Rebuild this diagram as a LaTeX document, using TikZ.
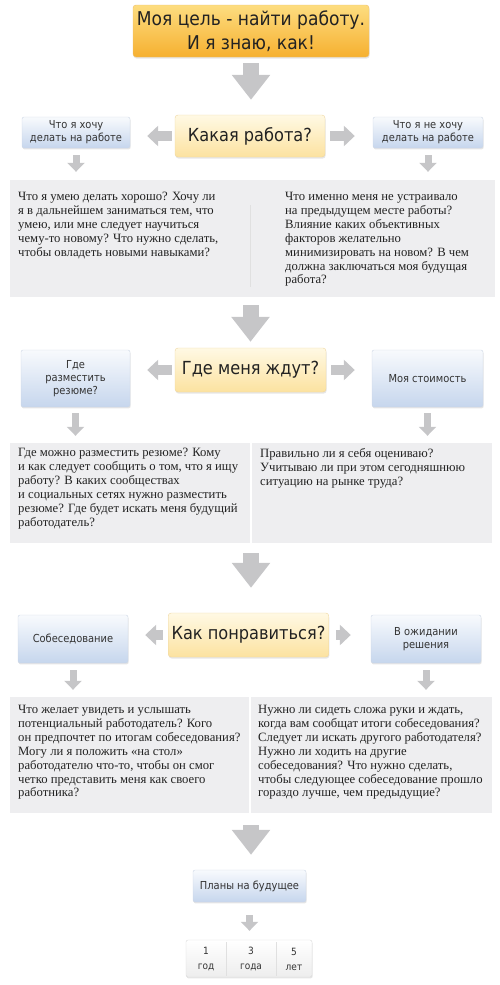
\documentclass[tikz,border=0pt]{standalone}
\usepackage{fontspec}
\setmainfont{Liberation Serif}
\newfontfamily\boxfont{DejaVu Sans Condensed}
\usetikzlibrary{arrows.meta,shadows}
\definecolor{jbgoldtop}{RGB}{253,221,128}
\definecolor{jbgoldbot}{RGB}{246,176,48}
\definecolor{jbgoldline}{RGB}{236,190,110}
\definecolor{jbcreamtop}{RGB}{255,249,228}
\definecolor{jbcreambot}{RGB}{252,226,160}
\definecolor{jbcreamline}{RGB}{238,214,160}
\definecolor{jbbluetop}{RGB}{248,250,253}
\definecolor{jbbluebot}{RGB}{198,214,237}
\definecolor{jbblueline}{RGB}{205,214,228}
\definecolor{jbpanel}{RGB}{238,238,240}
\definecolor{jbarrow}{RGB}{198,198,200}
\definecolor{jbtext}{RGB}{34,34,34}
\definecolor{jblabel}{RGB}{51,51,51}

\tikzset{
  goalbox/.style={rounded corners=3pt, draw=jbgoldline, top color=jbgoldtop, bottom color=jbgoldbot,
    drop shadow={opacity=0.2, shadow xshift=0.6pt, shadow yshift=-1.6pt},
    font=\boxfont\fontsize{19}{24}\selectfont, text=jbtext, align=center},
  askbox/.style={rounded corners=3pt, draw=jbcreamline, top color=jbcreamtop, bottom color=jbcreambot,
    drop shadow={opacity=0.2, shadow xshift=0.6pt, shadow yshift=-1.6pt},
    font=\boxfont\fontsize{18}{22}\selectfont, text=jbtext, align=center},
  stepbox/.style={rounded corners=2pt, draw=jbblueline, top color=jbbluetop, bottom color=jbbluebot,
    drop shadow={opacity=0.2, shadow xshift=0.6pt, shadow yshift=-1.4pt},
    font=\boxfont\fontsize{11}{13}\selectfont, text=jblabel, align=center},
  yearbox/.style={rounded corners=2pt, draw=black!15, top color=white, bottom color=black!7,
    drop shadow={opacity=0.2, shadow xshift=0.6pt, shadow yshift=-1.4pt}},
  yearlabel/.style={font=\boxfont\fontsize{10}{15}\selectfont, text=jblabel, align=center},
  panel/.style={fill=jbpanel, draw=none, inner sep=0pt},
  paneltext/.style={font=\fontsize{12.7}{13.9}\selectfont, text=jbtext, align=left, inner sep=0pt, anchor=north west},
  bigarrow/.style={jbarrow, line width=16pt, -{Triangle[length=25pt,width=37pt]}},
  sidearrow/.style={jbarrow, line width=10pt, -{Triangle[length=11pt,width=20pt]}},
  smallarrow/.style={jbarrow, line width=7pt, -{Triangle[length=9pt,width=17pt]}},
}

\begin{document}
\begin{tikzpicture}[x=1pt, y=-1pt]
  \useasboundingbox (0,0) rectangle (500,985);

  % goal
  \node[goalbox, minimum width=236pt, minimum height=52pt] (goal) at (251,31) {Моя цель - найти работу.\\И я знаю, как!};

  % row 1
  \node[askbox, minimum width=150pt, minimum height=42pt] (q1) at (250,136) {Какая работа?};
  \node[stepbox, minimum width=108pt, minimum height=31pt] (w1l) at (76,132.5) {Что я хочу\\делать на работе};
  \node[stepbox, minimum width=110pt, minimum height=31pt] (w1r) at (428,132.5) {Что я не хочу\\делать на работе};
  \node[panel, minimum width=485pt, minimum height=117pt] (p1) at (252.5,238.5) {};
  \node[paneltext] (t1l) at (18,192) {Что я умею делать хорошо? Хочу ли\\я в дальнейшем заниматься тем, что\\умею, или мне следует научиться\\чему-то новому? Что нужно сделать,\\чтобы овладеть новыми навыками?};
  \node[paneltext] (t1r) at (285,192) {Что именно меня не устраивало\\на предыдущем месте работы?\\Влияние каких объективных\\факторов желательно\\минимизировать на новом? В чем\\должна заключаться моя будущая\\работа?};
  \draw[black!12] (250,205) -- (250,287);

  % row 2
  \node[askbox, minimum width=151pt, minimum height=44pt] (q2) at (250.5,370) {Где меня ждут?};
  \node[stepbox, minimum width=109pt, minimum height=57pt] (w2l) at (75.5,378.5) {Где\\разместить\\резюме?};
  \node[stepbox, minimum width=111pt, minimum height=57pt] (w2r) at (427.5,378.5) {Моя стоимость};
  \node[panel, minimum width=482pt, minimum height=100pt] (p2) at (251,493) {};
  \node[paneltext] (t2l) at (18,448) {Где можно разместить резюме? Кому\\и как следует сообщить о том, что я ищу\\работу? В каких сообществах\\и социальных сетях нужно разместить\\резюме? Где будет искать меня будущий\\работодатель?};
  \node[paneltext] (t2r) at (260,448) {Правильно ли я себя оцениваю?\\Учитываю ли при этом сегодняшнюю\\ситуацию на рынке труда?};
  \draw[white, line width=1.2pt] (p2.north) -- (p2.south);

  % row 3
  \node[askbox, minimum width=151pt, minimum height=44pt] (q3) at (248.5,635) {Как понравиться?};
  \node[stepbox, minimum width=110pt, minimum height=48pt] (w3l) at (73,639) {Собеседование};
  \node[stepbox, minimum width=110pt, minimum height=48pt] (w3r) at (426,639) {В ожидании\\решения};
  \node[panel, minimum width=482pt, minimum height=116pt] (p3) at (251,755) {};
  \node[paneltext] (t3l) at (18,705) {Что желает увидеть и услышать\\потенциальный работодатель? Кого\\он предпочтет по итогам собеседования?\\Могу ли я положить «на стол»\\работодателю что-то, чтобы он смог\\четко представить меня как своего\\работника?};
  \node[paneltext] (t3r) at (258,705) {Нужно ли сидеть сложа руки и ждать,\\когда вам сообщат итоги собеседования?\\Следует ли искать другого работодателя?\\Нужно ли ходить на другие\\собеседования? Что нужно сделать,\\чтобы следующее собеседование прошло\\гораздо лучше, чем предыдущие?};
  \draw[white, line width=1.2pt] (250,697) -- (250,813);

  % plans
  \node[stepbox, minimum width=113pt, minimum height=32pt] (plans) at (249.5,886) {Планы на будущее};
  \node[yearbox, minimum width=126pt, minimum height=37pt] (years) at (249,958.5) {};
  \node[yearlabel] (y1) at (206,959) {1\\год};
  \node[yearlabel] (y3) at (251,959) {3\\года};
  \node[yearlabel] (y5) at (294,959) {5\\лет};
  \draw[black!12] (226,942) -- (226,976);
  \draw[black!12] (276,942) -- (276,976);

  % arrows
  \draw[bigarrow, shorten <=6pt, shorten >=15pt] (goal.south) -- (goal.south |- q1.north);
  \draw[bigarrow, shorten <=8pt, shorten >=6pt] (p1.south -| q2.north) -- (q2.north);
  \draw[bigarrow, shorten <=10pt, shorten >=25pt] (p2.south) -- (p2.south |- q3.north);
  \draw[bigarrow, shorten <=12pt, shorten >=15pt] (p3.south) -- (p3.south |- plans.north);
  \draw[sidearrow, shorten <=3pt, shorten >=17pt] (q1.west) -- (q1.west -| w1l.east);
  \draw[sidearrow, shorten <=5pt, shorten >=18pt] (q1.east) -- (q1.east -| w1r.west);
  \draw[sidearrow, shorten <=3pt, shorten >=17pt] (q2.west) -- (q2.west -| w2l.east);
  \draw[sidearrow, shorten <=5pt, shorten >=17pt] (q2.east) -- (q2.east -| w2r.west);
  \draw[sidearrow, shorten <=5pt, shorten >=17pt] (q3.west) -- (q3.west -| w3l.east);
  \draw[sidearrow, shorten <=7pt, shorten >=20pt] (q3.east) -- (q3.east -| w3r.west);
  \draw[smallarrow, shorten <=7pt, shorten >=8pt] (w1l.south) -- (w1l.south |- p1.north);
  \draw[smallarrow, shorten <=7pt, shorten >=8pt] (w1r.south) -- (w1r.south |- p1.north);
  \draw[smallarrow, shorten <=6pt, shorten >=7pt] (w2l.south) -- (w2l.south |- p2.north);
  \draw[smallarrow, shorten <=6pt, shorten >=7pt] (w2r.south) -- (w2r.south |- p2.north);
  \draw[smallarrow, shorten <=7pt, shorten >=7pt] (w3l.south) -- (w3l.south |- p3.north);
  \draw[smallarrow, shorten <=7pt, shorten >=7pt] (w3r.south) -- (w3r.south |- p3.north);
  \draw[smallarrow, shorten <=13pt, shorten >=9pt] (plans.south) -- (plans.south |- years.north);
\end{tikzpicture}
\end{document}
